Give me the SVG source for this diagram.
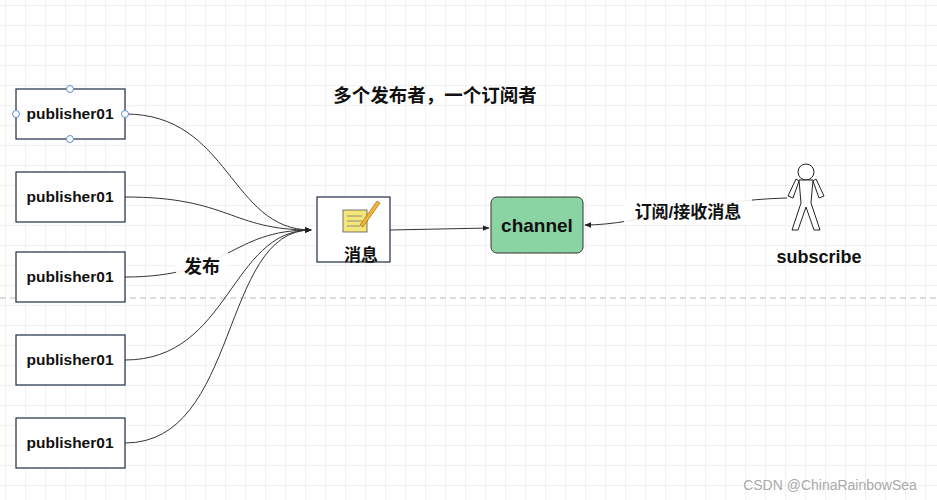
<svg xmlns="http://www.w3.org/2000/svg" width="937" height="500" viewBox="0 0 937 500">
<style>
text{font-family:"Liberation Sans","Noto Sans CJK SC",sans-serif;font-weight:bold;fill:#111}
.pub{fill:#fff;stroke:#1f2a44;stroke-width:1.2}
.c{fill:none;stroke:#333;stroke-width:1}
.h{fill:#fff;stroke:#5b8fd9;stroke-width:1}
</style>
<defs>
<pattern id="g" width="20" height="20" patternUnits="userSpaceOnUse" x="6" y="6">
<path d="M20 0V20M0 20H20" fill="none" stroke="#e3e3e3" stroke-width="1"/>
</pattern>
<marker id="a" viewBox="0 0 10 10" refX="9" refY="5" markerWidth="7" markerHeight="7" orient="auto"><path d="M0 1L10 5L0 9z" fill="#222"/></marker>
</defs>
<rect width="937" height="500" fill="#fff"/>
<rect width="937" height="500" fill="url(#g)"/>
<line x1="0" y1="298" x2="937" y2="298" stroke="#bbb" stroke-dasharray="6,4"/>
<g id="connectors">
<path class="c" d="M125 114C230 114 230 230 311 230" marker-end="url(#a)"/>
<path class="c" d="M125 197C230 197 230 230 311 230" marker-end="url(#a)"/>
<path class="c" d="M125 277C230 277 230 230 311 230" marker-end="url(#a)"/>
<path class="c" d="M125 360C230 360 230 230 311 230" marker-end="url(#a)"/>
<path class="c" d="M125 443C240 443 220 230 311 230" marker-end="url(#a)"/>
<path class="c" d="M390 230L489 228" marker-end="url(#a)"/>
<path class="c" d="M787 198C700 200 640 225 585 225" marker-end="url(#a)"/>
</g>
<rect x="176" y="251" width="52" height="28" fill="#fff" opacity="0.9"/>
<text x="202" y="273" font-size="18" text-anchor="middle">发布</text>
<rect x="624" y="199" width="128" height="26" fill="#fff" opacity="0.9"/>
<text x="688" y="218" font-size="17" text-anchor="middle">订阅/接收消息</text>
<g id="title"><text x="435" y="102" font-size="18.5" text-anchor="middle">多个发布者，一个订阅者</text></g>
<g id="p1"><rect class="pub" x="16" y="89" width="109" height="50"/><text x="70" y="119" font-size="15.5" text-anchor="middle">publisher01</text>
<circle class="h" cx="70" cy="89" r="3.5"/><circle class="h" cx="70" cy="139" r="3.5"/><circle class="h" cx="16" cy="114" r="3.5"/><circle class="h" cx="125" cy="114" r="3.5"/></g>
<g id="p2"><rect class="pub" x="16" y="172" width="109" height="50"/><text x="70" y="202" font-size="15.5" text-anchor="middle">publisher01</text></g>
<g id="p3"><rect class="pub" x="16" y="252" width="109" height="50"/><text x="70" y="282" font-size="15.5" text-anchor="middle">publisher01</text></g>
<g id="p4"><rect class="pub" x="16" y="335" width="109" height="50"/><text x="70" y="365" font-size="15.5" text-anchor="middle">publisher01</text></g>
<g id="p5"><rect class="pub" x="16" y="418" width="109" height="50"/><text x="70" y="448" font-size="15.5" text-anchor="middle">publisher01</text></g>
<g id="msg"><rect class="pub" x="317" y="197" width="73" height="65"/>
<rect x="343" y="210" width="24" height="22" fill="#f5e67a" stroke="#555" stroke-width="0.8"/>
<path d="M347 216H362M347 221H362M347 226H360" stroke="#777" stroke-width="0.8"/>
<path d="M360 225L377 201L380 203L363 227Z" fill="#f2b53a" stroke="#8a5a10" stroke-width="0.6"/>
<text x="361" y="261" font-size="17" text-anchor="middle">消息</text></g>
<g id="channel"><rect x="491" y="197" width="92" height="56" rx="6" fill="#8ad3a3" stroke="#333"/><text x="537" y="232" font-size="19" text-anchor="middle">channel</text></g>
<g id="subscribe" fill="#fff" stroke="#222" stroke-width="1">
<circle cx="806" cy="172" r="8"/>
<path d="M799 181L793 198L788 196L796 179ZM813 181L819 198L824 196L816 179Z"/>
<path d="M799 180H813L811 203L820 230H814L806 207L798 230H792L801 203Z"/>
</g>
<text x="819" y="263" font-size="18" text-anchor="middle">subscribe</text>
<text x="830" y="490" font-size="14" text-anchor="middle" style="font-weight:normal;fill:#aaa">CSDN @ChinaRainbowSea</text>
</svg>
